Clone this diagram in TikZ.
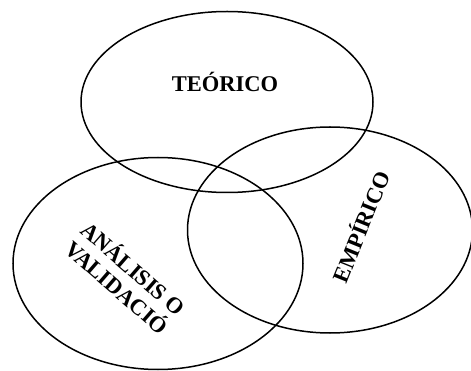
\documentclass[tikz,border=0pt]{standalone}
\usepackage{fontspec}
\setmainfont{Liberation Serif}
\usepackage{tikz}
\usetikzlibrary{calc}
\usetikzlibrary{positioning}

\tikzset{circulo/.style={line width=1.5pt,black},
	rotulo/.style={font=\bfseries\fontsize{22.5}{25}\selectfont,align=center,inner sep=0pt}}

\begin{document}
\begin{tikzpicture}[x=1pt,y=-1pt]
		\useasboundingbox (0,0) rectangle (471,371);
		\draw[circulo] (227,102) ellipse (146 and 90.5);
		\draw[circulo] (158,263.5) ellipse (145 and 106);
		\draw[circulo] (330,230) ellipse (142.5 and 103);
		\node[rotulo] (teorico) at (225,82) {TEÓRICO};
		\node[rotulo,rotate=-41] (analisis) at (126,277) {ANÁLISIS O\\VALIDACIÓ};
		\node[rotulo,rotate=68] (empirico) at (360,226) {EMPÍRICO};
	\end{tikzpicture}
\end{document}
